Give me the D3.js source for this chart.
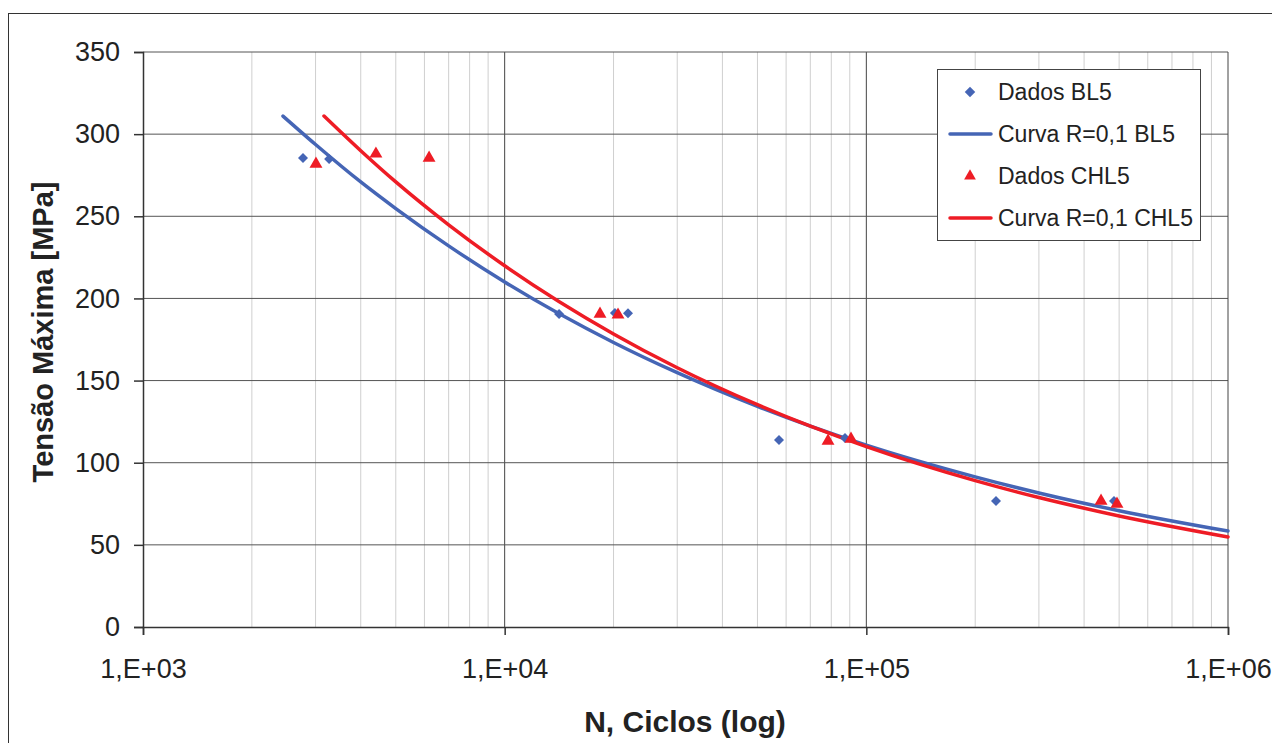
<!DOCTYPE html>
<html><head><meta charset="utf-8">
<script src="https://cdn.jsdelivr.net/npm/d3@7"></script>
<style>html,body{margin:0;padding:0;background:#fff;}svg{display:block;font-family:"Liberation Sans",Arial,sans-serif;}</style>
</head><body>
<script>
// Data
const bl5N = [2770, 3270, 14140, 20180, 21930, 57340, 87300, 228300, 484000];
const bl5S = [285.5, 284.9, 190.5, 191.1, 191, 113.8, 115, 76.7, 76.7];
const chl5N = [3008, 4406, 6180, 18350, 20580, 78360, 90700, 445600, 493200];
const chl5S = [281.8, 288, 285.5, 190.5, 190, 113.2, 114.4, 76.7, 74.9];
const curveBlN = [2438, 3000, 4000, 5000, 7000, 10000, 20000, 30000, 50000, 100000, 200000, 300000, 500000, 1000000];
const curveBlS = [311, 293.7, 270.9, 254.7, 232, 210, 173.2, 154.8, 134.3, 110.7, 91.4, 81.6, 70.8, 58.4];
const curveChN = [3166, 4000, 5000, 7000, 10000, 20000, 30000, 50000, 100000, 200000, 300000, 500000, 1000000];
const curveChS = [311, 289.9, 270.9, 244.8, 219.9, 178.4, 157.8, 135.3, 109.8, 89.1, 78.8, 67.6, 54.8];
const yTicks = [0, 50, 100, 150, 200, 250, 300, 350];
const xTicks = [1e3, 1e4, 1e5, 1e6];
const xTickLabels = ["1,E+03", "1,E+04", "1,E+05", "1,E+06"];
const legendLabels = ["Dados BL5", "Curva R=0,1 BL5", "Dados CHL5", "Curva R=0,1 CHL5"];

const W = 1272, H = 743;
const blue = "#4565b5", red = "#ee1c25";
const L = 143, R = 1228, T = 52, B = 627;

const svg = d3.select("body").append("svg").attr("width", W).attr("height", H);
svg.append("rect").attr("width", W).attr("height", H).attr("fill", "#fff");
svg.append("rect").attr("x", 8.5).attr("y", 13.5).attr("width", 1300).attr("height", 800)
  .attr("fill", "none").attr("stroke", "#333").attr("stroke-width", 1);

const x = d3.scaleLog().domain([1e3, 1e6]).range([L, R]);
const y = d3.scaleLinear().domain([0, 350]).range([B, T]);

// minor vertical grid
const minor = [];
for (let e = 3; e < 6; e++) for (let k = 2; k <= 9; k++) minor.push(k * Math.pow(10, e));
svg.append("g").selectAll("line").data(minor).join("line")
  .attr("x1", d => x(d)).attr("x2", d => x(d)).attr("y1", T).attr("y2", B)
  .attr("stroke", "#cfcfcf").attr("stroke-width", 1);
// major vertical grid
svg.append("g").selectAll("line").data(xTicks.slice(1, 3)).join("line")
  .attr("x1", d => x(d)).attr("x2", d => x(d)).attr("y1", T).attr("y2", B)
  .attr("stroke", "#444").attr("stroke-width", 1);
// horizontal grid
svg.append("g").selectAll("line").data(yTicks.slice(1)).join("line")
  .attr("x1", L).attr("x2", R).attr("y1", d => y(d)).attr("y2", d => y(d))
  .attr("stroke", "#555").attr("stroke-width", 1);
// right border
svg.append("line").attr("x1", R).attr("x2", R).attr("y1", T).attr("y2", B).attr("stroke", "#444");

// axes
const yAxis = d3.axisLeft(y).tickValues(yTicks).tickSize(9).tickPadding(14).tickFormat(d3.format("d"));
const gy = svg.append("g").attr("transform", `translate(${L},0)`).call(yAxis);
gy.selectAll("text").attr("font-size", 27).attr("fill", "#222").attr("font-family", "Liberation Sans, Arial, sans-serif");
gy.selectAll("line,path").attr("stroke", "#333").attr("stroke-width", 1.5);

const xAxis = d3.axisBottom(x).tickValues(xTicks).tickSize(8).tickPadding(24)
  .tickFormat((d, i) => xTickLabels[i]);
const gx = svg.append("g").attr("transform", `translate(0,${B})`).call(xAxis);
gx.selectAll("text").attr("font-size", 27).attr("fill", "#222").attr("font-family", "Liberation Sans, Arial, sans-serif");
gx.selectAll("line,path").attr("stroke", "#333").attr("stroke-width", 1.5);

// titles
svg.append("text").attr("x", 685).attr("y", 732).attr("text-anchor", "middle")
  .attr("font-size", 30).attr("font-weight", "bold").attr("fill", "#222").text("N, Ciclos (log)");
svg.append("text").attr("transform", "translate(53,332) rotate(-90)").attr("text-anchor", "middle")
  .attr("font-size", 29).attr("font-weight", "bold").attr("fill", "#222").text("Tensão Máxima [MPa]");

// curves
const line = d3.line().x(d => x(d[0])).y(d => y(d[1])).curve(d3.curveMonotoneX);
svg.append("path").datum(curveBlN.map((n, i) => [n, curveBlS[i]])).attr("d", line)
  .attr("fill", "none").attr("stroke", blue).attr("stroke-width", 3.5).attr("stroke-linecap", "round");
svg.append("path").datum(curveChN.map((n, i) => [n, curveChS[i]])).attr("d", line)
  .attr("fill", "none").attr("stroke", red).attr("stroke-width", 3.5).attr("stroke-linecap", "round");

// markers
const diamond = d3.symbol().type(d3.symbolSquare).size(50)();
const tri = d3.symbol().type(d3.symbolTriangle).size(72)();
svg.append("g").selectAll("path").data(bl5N.map((n, i) => [n, bl5S[i]])).join("path")
  .attr("d", diamond).attr("fill", blue)
  .attr("transform", d => `translate(${x(d[0])},${y(d[1])}) rotate(45)`);
svg.append("g").selectAll("path").data(chl5N.map((n, i) => [n, chl5S[i]])).join("path")
  .attr("d", tri).attr("fill", red)
  .attr("transform", d => `translate(${x(d[0])},${y(d[1])})`);

// legend
const lg = svg.append("g");
lg.append("rect").attr("x", 937.5).attr("y", 69.5).attr("width", 263).attr("height", 171)
  .attr("fill", "#fff").attr("stroke", "#444").attr("stroke-width", 1);
const ly = [92, 134, 176, 218];
legendLabels.forEach((lab, i) => {
  const cy = ly[i];
  if (i === 0) lg.append("path").attr("d", d3.symbol().type(d3.symbolSquare).size(55)()).attr("fill", blue)
    .attr("transform", `translate(970,${cy}) rotate(45)`);
  if (i === 2) lg.append("path").attr("d", d3.symbol().type(d3.symbolTriangle).size(60)()).attr("fill", red)
    .attr("transform", `translate(970,${cy})`);
  if (i === 1 || i === 3) lg.append("line").attr("x1", 950).attr("x2", 991).attr("y1", cy).attr("y2", cy)
    .attr("stroke", i === 1 ? blue : red).attr("stroke-width", 3.5).attr("stroke-linecap", "round");
  lg.append("text").attr("x", 998).attr("y", cy + 8).attr("font-size", 23).attr("fill", "#222").text(lab);
});
</script>
</body></html>
